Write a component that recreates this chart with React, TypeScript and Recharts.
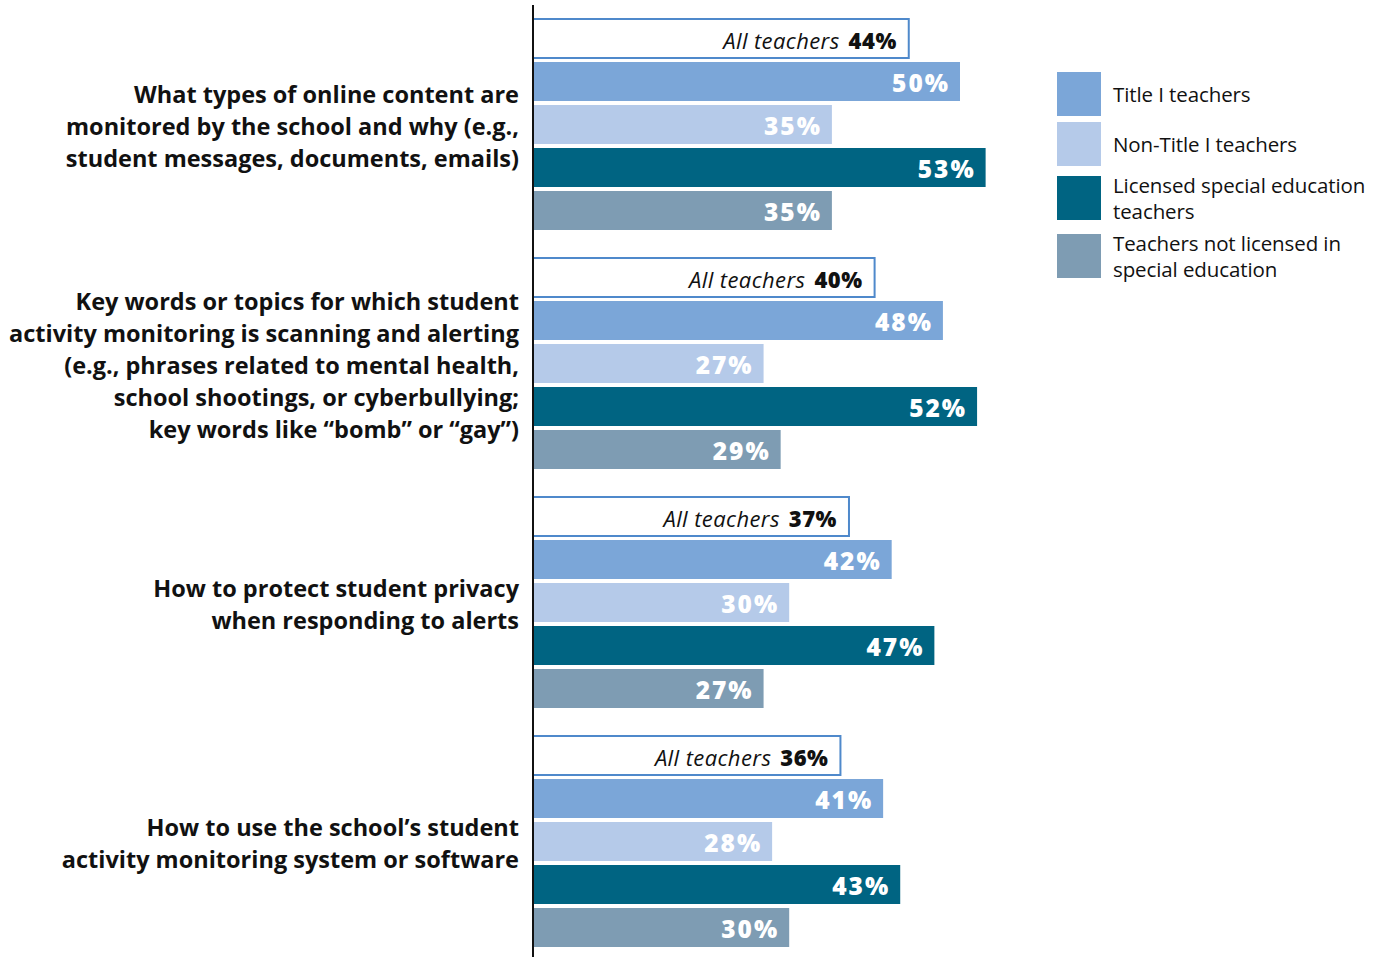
import React from "react";
import { BarChart, Bar, XAxis, YAxis, LabelList } from "recharts";

const questionLines: string[][] = [
  ["What types of online content are", "monitored by the school and why (e.g.,", "student messages, documents, emails)"],
  [
    "Key words or topics for which student",
    "activity monitoring is scanning and alerting",
    "(e.g., phrases related to mental health,",
    "school shootings, or cyberbullying;",
    "key words like \u201cbomb\u201d or \u201cgay\u201d)",
  ],
  ["How to protect student privacy", "when responding to alerts"],
  ["How to use the school\u2019s student", "activity monitoring system or software"],
];

const allTeachers = [44, 40, 37, 36];
const titleI = [50, 48, 42, 41];
const nonTitleI = [35, 27, 30, 28];
const licensedSped = [53, 52, 47, 43];
const notLicensedSped = [35, 29, 27, 30];

const seriesNames = [
  "Title I teachers",
  "Non-Title I teachers",
  "Licensed special education teachers",
  "Teachers not licensed in special education",
];
const seriesLegendLines = [
  ["Title I teachers"],
  ["Non-Title I teachers"],
  ["Licensed special education", "teachers"],
  ["Teachers not licensed in", "special education"],
];
const seriesKeys = ["titleI", "nonTitleI", "licensed", "notLicensed"];
const seriesColors = ["#7ba6d8", "#b5cae9", "#006482", "#7e9cb3"];
const allTeachersLabel = "All teachers";
const allBorder = "#4f89cb";

const data = questionLines.map((lines, i) => ({
  q: lines.join(" "),
  all: allTeachers[i],
  titleI: titleI[i],
  nonTitleI: nonTitleI[i],
  licensed: licensedSped[i],
  notLicensed: notLicensedSped[i],
}));

const FONT = "'Open Sans', 'Noto Sans', sans-serif";

const QuestionTick = (props: any) => {
  const { x, y, index } = props;
  const lines = questionLines[index] || [];
  const lh = 32;
  const start = y + 1 - ((lines.length - 1) * lh) / 2;
  return (
    <text x={x} y={start} textAnchor="end" fontFamily={FONT} fontWeight={700} fontSize={23.5} fill="#111">
      {lines.map((l, i) => (
        <tspan key={i} x={x} y={start + i * lh} dominantBaseline="central">
          {l}
        </tspan>
      ))}
    </text>
  );
};

const ValueLabel = (props: any) => {
  const { x, y, width, height, value } = props;
  return (
    <text
      x={x + width - 10}
      y={y + height / 2 + 1}
      textAnchor="end"
      dominantBaseline="central"
      fontFamily={FONT}
      fontWeight={800}
      fontSize={24.5}
      letterSpacing={2}
      fill="#ffffff"
    >
      {value}%
    </text>
  );
};

const AllLabel = (props: any) => {
  const { x, y, width, height, value } = props;
  return (
    <text
      x={x + width - 12}
      y={y + height / 2 + 1}
      textAnchor="end"
      dominantBaseline="central"
      fontFamily={FONT}
      fontSize={22}
      fill="#111"
    >
      <tspan fontStyle="italic" letterSpacing={0.4}>{allTeachersLabel}</tspan>
      <tspan fontWeight={800} dx={9} letterSpacing={0.5}>
        {value}%
      </tspan>
    </text>
  );
};

const LegendBox = () => (
  <div
    style={{
      position: "absolute",
      left: 1057,
      top: 72,
      width: 331,
      fontFamily: FONT,
      fontSize: 20.5,
      color: "#111",
    }}
  >
    {seriesNames.map((n, i) => (
      <div key={n} style={{ display: "flex", alignItems: "center", minHeight: 44, marginBottom: 6 }}>
        <div style={{ width: 44, height: 44, background: seriesColors[i], flex: "none" }} />
        <div style={{ marginLeft: 12, lineHeight: "26px", letterSpacing: -0.1, whiteSpace: "nowrap" }}>
          {seriesLegendLines[i].map((l, j) => (
            <div key={j}>{l}</div>
          ))}
        </div>
      </div>
    ))}
  </div>
);

export default function App() {
  return (
    <div style={{ position: "fixed", left: 0, top: 0, width: 1388, height: 957, overflow: "hidden", background: "#fff" }}>
      <BarChart
        width={1388}
        height={962}
        data={data}
        layout="vertical"
        margin={{ top: 5, right: 1, bottom: 1, left: 0 }}
        barSize={39}
        barGap={4}
      >
        <XAxis type="number" domain={[0, 100]} hide />
        <YAxis
          type="category"
          dataKey="q"
          width={533}
          tickLine={false}
          tickMargin={8}
          axisLine={{ stroke: "#111", strokeWidth: 2 }}
          tick={<QuestionTick />}
          interval={0}
        />
        <Bar dataKey="all" name={allTeachersLabel} fill="#ffffff" stroke={allBorder} strokeWidth={2} isAnimationActive={false}>
          <LabelList dataKey="all" content={<AllLabel />} />
        </Bar>
        {seriesKeys.map((k, i) => (
          <Bar key={k} dataKey={k} name={seriesNames[i]} fill={seriesColors[i]} isAnimationActive={false}>
            <LabelList dataKey={k} content={<ValueLabel />} />
          </Bar>
        ))}
      </BarChart>
      <LegendBox />
    </div>
  );
}
